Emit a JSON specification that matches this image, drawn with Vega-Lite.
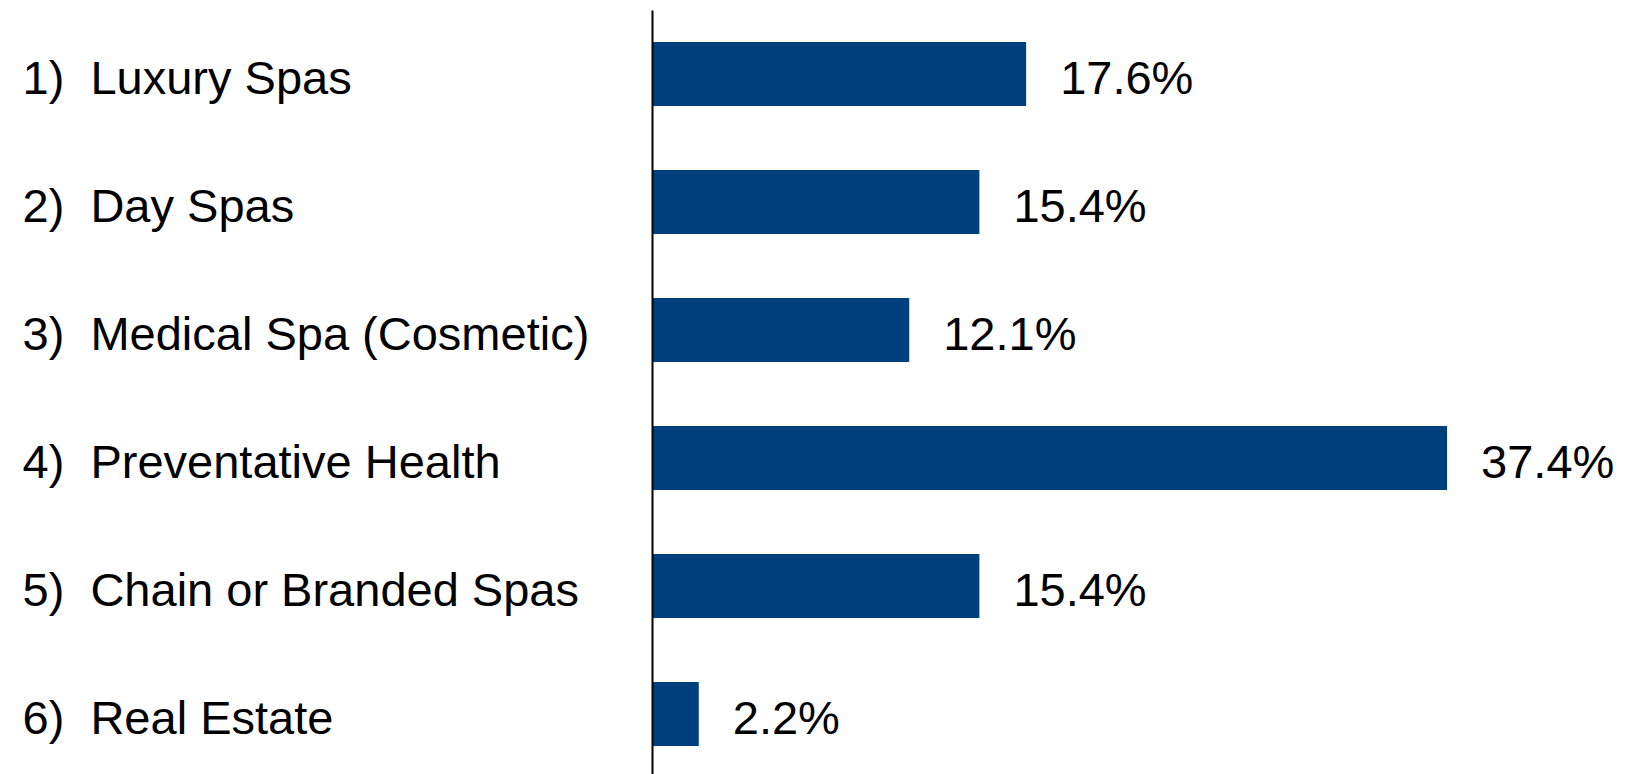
{
  "$schema": "https://vega.github.io/schema/vega-lite/v6.json",
  "width": 973,
  "height": 764,
  "autosize": "none",
  "padding": {"left": 652, "top": 10, "right": 0, "bottom": 0},
  "background": "#FFFFFF",
  "config": {"view": {"stroke": null}},
  "data": {
    "values": [
      {"category": "1)\u00a0 Luxury Spas", "share": 0.176},
      {"category": "2)\u00a0 Day Spas", "share": 0.154},
      {"category": "3)\u00a0 Medical Spa (Cosmetic)", "share": 0.121},
      {"category": "4)\u00a0 Preventative Health", "share": 0.374},
      {"category": "5)\u00a0 Chain or Branded Spas", "share": 0.154},
      {"category": "6)\u00a0 Real Estate", "share": 0.022}
    ]
  },
  "encoding": {
    "y": {
      "field": "category",
      "type": "nominal",
      "sort": null,
      "scale": {"paddingInner": 0.5, "paddingOuter": 0.234375, "align": 0.5333},
      "axis": {
        "title": null,
        "orient": "left",
        "ticks": false,
        "tickSize": 0,
        "domain": true,
        "domainColor": "#000000",
        "domainWidth": 2,
        "labelAlign": "left",
        "labelPadding": 630,
        "labelFont": "Liberation Sans",
        "labelFontSize": 47,
        "labelColor": "#000000",
        "labelOffset": 6,
        "labelLimit": 0,
        "zindex": 1
      }
    },
    "x": {
      "field": "share",
      "type": "quantitative",
      "scale": {"domain": [0, 0.4577], "nice": false, "zero": true},
      "axis": null
    }
  },
  "layer": [
    {"mark": {"type": "bar", "color": "#003F7E"}},
    {
      "mark": {
        "type": "text",
        "align": "left",
        "baseline": "middle",
        "dx": 34,
        "dy": 6,
        "font": "Liberation Sans",
        "fontSize": 47,
        "color": "#000000"
      },
      "encoding": {
        "text": {"field": "share", "type": "quantitative", "format": ".1%"}
      }
    }
  ]
}
